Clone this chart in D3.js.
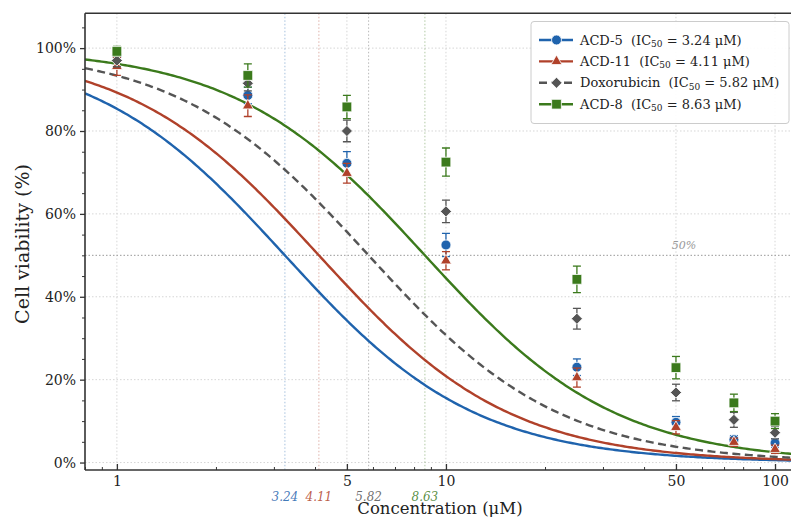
<!DOCTYPE html>
<html>
<head>
<meta charset="utf-8">
<script src="https://cdn.jsdelivr.net/npm/d3@7"></script>
<style>
  body { margin: 0; background: #fff; }
  text { font-family: "DejaVu Serif", serif; }
</style>
</head>
<body>
<div id="graph"></div>
<script>
var width = 791;
var height = 517;

// concentrations (uM)
var conc = [1, 2.5, 5, 10, 25, 50, 75, 100];
var names = ["ACD-5", "ACD-11", "Doxorubicin", "ACD-8"];
var ic50 = [3.24, 4.11, 5.82, 8.63];
var hill = [1.5, 1.5, 1.5, 1.5];
var colors = ["#1f63ad", "#b0412a", "#555555", "#3b7a1c"];
var shapes = ["circle", "triangle", "diamond", "square"];

// mean viability (%) per compound
var acd5  = [98.3, 88.6, 72.2, 52.5, 23.0, 9.7, 5.5, 4.7];
var acd11 = [95.6, 86.1, 69.8, 48.7, 20.5, 8.5, 4.9, 3.2];
var dox   = [97.0, 91.5, 80.0, 60.6, 34.7, 16.9, 10.3, 7.2];
var acd8  = [99.2, 93.4, 85.8, 72.5, 44.2, 22.9, 14.4, 10.0];
// standard deviations
var acd5_err  = [1.4, 2.0, 2.8, 2.8, 2.0, 1.4, 1.0, 1.0];
var acd11_err = [2.2, 2.6, 2.4, 2.2, 2.3, 1.6, 1.0, 1.0];
var dox_err   = [1.5, 1.8, 2.6, 2.7, 2.5, 2.0, 1.8, 1.5];
var acd8_err  = [1.2, 2.8, 2.8, 3.4, 3.2, 2.7, 2.1, 1.8];

var means = [acd5, acd11, dox, acd8];
var errs = [acd5_err, acd11_err, dox_err, acd8_err];

var xTicks = [1, 5, 10, 50, 100];
var yTicks = [0, 20, 40, 60, 80, 100];

var mLeft = 85, mRight = 795, mTop = 13.3, mBottom = 470;

var x = d3.scaleLog().domain([0.8, 115]).range([mLeft, mRight]);
var y = d3.scaleLinear().domain([-1.8, 108.4]).range([mBottom, mTop]);

var svg = d3.select("#graph").append("svg")
  .attr("width", width)
  .attr("height", height);

var defs = svg.append("defs");
defs.append("clipPath").attr("id", "clip")
  .append("rect")
  .attr("x", mLeft).attr("y", mTop)
  .attr("width", mRight - mLeft).attr("height", mBottom - mTop);

var plot = svg.append("g").attr("clip-path", "url(#clip)");

//grid
plot.selectAll(".vgrid").data(xTicks).enter().append("line")
  .attr("x1", d => x(d)).attr("x2", d => x(d))
  .attr("y1", mTop).attr("y2", mBottom)
  .attr("stroke", "#cccccc").attr("stroke-width", 0.8)
  .attr("stroke-dasharray", "1.5,2");
plot.selectAll(".hgrid").data(yTicks).enter().append("line")
  .attr("x1", mLeft).attr("x2", mRight)
  .attr("y1", d => y(d)).attr("y2", d => y(d))
  .attr("stroke", "#cccccc").attr("stroke-width", 0.8)
  .attr("stroke-dasharray", "1.5,2");

//50% reference
plot.append("line")
  .attr("x1", mLeft).attr("x2", mRight)
  .attr("y1", y(50)).attr("y2", y(50))
  .attr("stroke", "#999999").attr("stroke-width", 1)
  .attr("stroke-dasharray", "1.5,2");
plot.append("text")
  .attr("x", x(50) + 8).attr("y", y(50) - 6)
  .attr("text-anchor", "middle")
  .attr("font-size", 11).attr("font-style", "italic")
  .attr("fill", "#999999")
  .text("50%");

//IC50 markers
plot.selectAll(".icline").data(ic50).enter().append("line")
  .attr("x1", d => x(d)).attr("x2", d => x(d))
  .attr("y1", mTop).attr("y2", mBottom)
  .attr("stroke", (d, i) => colors[i]).attr("stroke-opacity", 0.45)
  .attr("stroke-width", 0.9)
  .attr("stroke-dasharray", "1.5,2");

//fitted curves
var curveX = d3.range(0, 301).map(i => 0.8 * Math.pow(115 / 0.8, i / 300));
var line = d3.line()
  .x(d => x(d[0]))
  .y(d => y(d[1]));
names.forEach(function(n, i) {
  var pts = curveX.map(c => [c, 100 / (1 + Math.pow(c / ic50[i], hill[i]))]);
  plot.append("path")
    .attr("d", line(pts))
    .attr("fill", "none")
    .attr("stroke", colors[i])
    .attr("stroke-width", 2.4)
    .attr("stroke-dasharray", i === 2 ? "8,4.5" : null);
});

function symbolPath(shape) {
  if (shape === "circle") return d3.symbol(d3.symbolCircle, 78)();
  if (shape === "triangle") return d3.symbol(d3.symbolTriangle, 52)();
  if (shape === "square") return d3.symbol(d3.symbolSquare, 95)();
  return d3.symbol(d3.symbolSquare, 62)();
}

//data points with error bars
names.forEach(function(n, i) {
  var g = plot.append("g");
  conc.forEach(function(c, j) {
    var cx = x(c);
    var lo = y(means[i][j] - errs[i][j]);
    var hi = y(means[i][j] + errs[i][j]);
    g.append("line").attr("x1", cx).attr("x2", cx).attr("y1", lo).attr("y2", hi)
      .attr("stroke", colors[i]).attr("stroke-width", 1.3);
    [lo, hi].forEach(function(v) {
      g.append("line").attr("x1", cx - 4).attr("x2", cx + 4).attr("y1", v).attr("y2", v)
        .attr("stroke", colors[i]).attr("stroke-width", 1.3);
    });
  });
  g.selectAll(".pt").data(conc).enter().append("path")
    .attr("d", symbolPath(shapes[i]))
    .attr("transform", (d, j) => "translate(" + x(d) + "," + y(means[i][j]) + ")" +
      (shapes[i] === "diamond" ? " rotate(45)" : ""))
    .attr("fill", colors[i])
    .attr("stroke", "#ffffff").attr("stroke-width", 0.8);
});

//frame
var frame = svg.append("g").attr("fill", "none").attr("stroke", "#333333").attr("stroke-width", 1.6);
frame.append("line").attr("x1", mLeft).attr("x2", mRight).attr("y1", mTop).attr("y2", mTop);
frame.append("line").attr("x1", mLeft).attr("x2", mRight).attr("y1", mBottom).attr("y2", mBottom);
frame.append("line").attr("x1", mLeft).attr("x2", mLeft).attr("y1", mTop).attr("y2", mBottom);
frame.append("line").attr("x1", mRight).attr("x2", mRight).attr("y1", mTop).attr("y2", mBottom);

//x axis (ticks inward)
var xMinor = [];
[0.1, 1, 10, 100].forEach(function(dec) {
  for (var k = 1; k < 10; k++) {
    var v = dec * k;
    if (v >= 0.8 && v <= 115 && xTicks.indexOf(+v.toFixed(4)) === -1) xMinor.push(v);
  }
});
svg.append("g")
  .attr("transform", "translate(0," + mBottom + ")")
  .call(d3.axisBottom(x).tickValues(xMinor).tickSize(-3).tickFormat(""))
  .call(g => g.select(".domain").remove())
  .call(g => g.selectAll("line").attr("stroke", "#333").attr("stroke-width", 1));
svg.append("g")
  .attr("transform", "translate(0," + mBottom + ")")
  .call(d3.axisBottom(x).tickValues(xTicks).tickSize(-6).tickPadding(6).tickFormat(d3.format("d")))
  .call(g => g.select(".domain").remove())
  .call(g => g.selectAll("line").attr("stroke", "#333").attr("stroke-width", 1.3))
  .call(g => g.selectAll("text").attr("font-family", "DejaVu Serif").attr("font-size", 14).attr("fill", "#222"));

//y axis
var yMinor = d3.range(0, 110, 5).filter(v => yTicks.indexOf(v) === -1);
svg.append("g")
  .attr("transform", "translate(" + mLeft + ",0)")
  .call(d3.axisLeft(y).tickValues(yMinor).tickSize(3).tickFormat(""))
  .call(g => g.select(".domain").remove())
  .call(g => g.selectAll("line").attr("stroke", "#333").attr("stroke-width", 1));
svg.append("g")
  .attr("transform", "translate(" + mLeft + ",0)")
  .call(d3.axisLeft(y).tickValues(yTicks).tickSize(5).tickPadding(4).tickFormat(d => d + "%"))
  .call(g => g.select(".domain").remove())
  .call(g => g.selectAll("line").attr("stroke", "#333").attr("stroke-width", 1.3))
  .call(g => g.selectAll("text").attr("font-family", "DejaVu Serif").attr("font-size", 14).attr("fill", "#222"));

//IC50 labels under axis
svg.selectAll(".iclabel").data(ic50).enter().append("text")
  .attr("x", d => x(d)).attr("y", 501)
  .attr("text-anchor", "middle")
  .attr("font-size", 12).attr("font-style", "italic")
  .attr("fill", (d, i) => colors[i]).attr("fill-opacity", 0.85)
  .text(d => d.toFixed(2));

//axis labels
svg.append("text")
  .attr("x", 440).attr("y", 514)
  .attr("text-anchor", "middle")
  .attr("font-size", 16.5).attr("fill", "#222")
  .text("Concentration (μM)");
svg.append("text")
  .attr("transform", "translate(29,244) rotate(-90)")
  .attr("text-anchor", "middle")
  .attr("font-size", 19).attr("fill", "#222")
  .text("Cell viability (%)");

//legend
var lg = svg.append("g");
lg.append("rect")
  .attr("x", 531).attr("y", 21.5).attr("width", 258).attr("height", 102)
  .attr("rx", 3)
  .attr("fill", "#ffffff").attr("fill-opacity", 0.9)
  .attr("stroke", "#cccccc").attr("stroke-width", 1);
names.forEach(function(n, i) {
  var ly = 40 + i * 21.4;
  lg.append("line")
    .attr("x1", 539).attr("x2", 573).attr("y1", ly).attr("y2", ly)
    .attr("stroke", colors[i]).attr("stroke-width", 2.4)
    .attr("stroke-dasharray", i === 2 ? "8,4.5" : null);
  lg.append("path")
    .attr("d", symbolPath(shapes[i]))
    .attr("transform", "translate(556.5," + ly + ")" + (shapes[i] === "diamond" ? " rotate(45)" : ""))
    .attr("fill", colors[i])
    .attr("stroke", "#ffffff").attr("stroke-width", 0.8);
  var t = lg.append("text")
    .attr("x", 580).attr("y", ly + 4.5)
    .attr("font-size", 13).attr("fill", "#222")
    .style("white-space", "pre");
  t.append("tspan").text(n + "  (IC");
  t.append("tspan").attr("font-size", 9).attr("dy", 2.5).text("50");
  t.append("tspan").attr("dy", -2.5).text(" = " + ic50[i].toFixed(2) + " μM)");
});
</script>
</body>
</html>
